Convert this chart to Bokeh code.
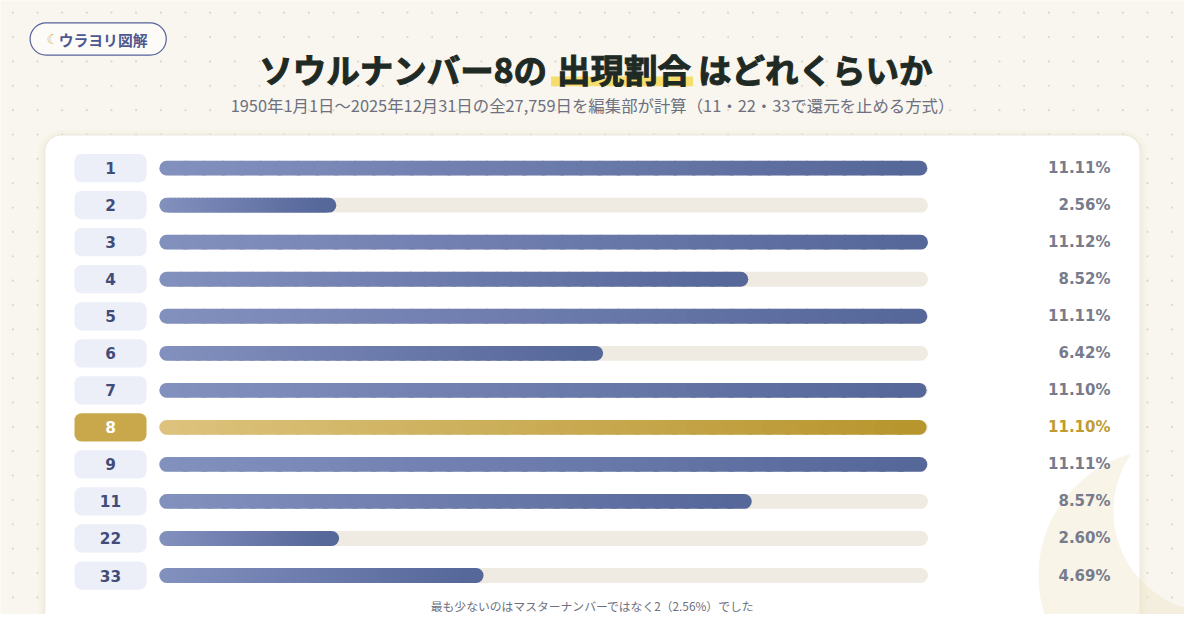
import numpy as np
from bokeh.plotting import figure
from bokeh.models import Range1d, ColumnDataSource
from bokeh.core.properties import value
from bokeh.embed import file_html
from bokeh.resources import INLINE

# ---------------- data ----------------
labels = ["1", "2", "3", "4", "5", "6", "7", "8", "9", "11", "22", "33"]
shares = [11.11, 2.56, 11.12, 8.52, 11.11, 6.42, 11.10, 11.10, 11.11, 8.57, 2.60, 4.69]
highlight_label = "8"

badge_text = "ウラヨリ図解"
title_parts = ["ソウルナンバー8の", "出現割合", "はどれくらいか"]
subtitle = "1950年1月1日〜2025年12月31日の全27,759日を編集部が計算（11・22・33で還元を止める方式）"
footer = "最も少ないのはマスターナンバーではなく2（2.56%）でした"

# ---------------- layout (reference pixel space 1200x630) ----------------
W, H = 1184, 614
REF_W, REF_H = 1200, 630
SX = W / REF_W
BAR_X0, BAR_X1 = 161, 940
ROW0, ROW_STEP = 172, 38
BAR_W = 15
scale_max = max(shares)
k = (BAR_X1 - BAR_X0) / scale_max  # ref px per percent


def X(px):
    return (np.asarray(px, dtype=float) - BAR_X0) / k


def Y(py):
    return (np.asarray(py, dtype=float) - ROW0) / ROW_STEP


def fs(px):
    return f"{px * SX:.1f}px"


JP = value("Noto Sans CJK JP")
NUM = value("DejaVu Sans")

p = figure(width=W, height=H,
           x_range=Range1d(float(X(0)), float(X(REF_W))),
           y_range=Range1d(float(Y(REF_H)), float(Y(0))),
           output_backend="svg", toolbar_location=None,
           x_axis_location=None, y_axis_location=None,
           min_border=0, tools="")
p.grid.visible = False
p.outline_line_color = None
BG = "#f9f6ef"
p.background_fill_color = BG
p.border_fill_color = BG

# dotted background
gx, gy = np.meshgrid(np.arange(12.5, 1200, 25.0), np.arange(12.5, 640, 25.0))
p.scatter(X(gx.ravel()), Y(gy.ravel()), size=2.2, color="#ddd7ca", line_color=None)


# crescent decoration (outer circle minus inner circle)
def crescent(c1, r1, c2, r2, n=160):
    c1 = np.array(c1, float); c2 = np.array(c2, float)
    d = np.linalg.norm(c2 - c1)
    a = (r1 ** 2 - r2 ** 2 + d ** 2) / (2 * d)
    h = np.sqrt(r1 ** 2 - a ** 2)
    u = (c2 - c1) / d
    perp = np.array([-u[1], u[0]])
    P = c1 + a * u
    I1, I2 = P + h * perp, P - h * perp

    def arc(c, r, A, B, keep):
        a1 = np.arctan2(*(A - c)[::-1]); a2 = np.arctan2(*(B - c)[::-1])
        for direction in (1, -1):
            span = (a2 - a1) % (2 * np.pi) if direction == 1 else -((a1 - a2) % (2 * np.pi))
            mid = a1 + span / 2
            pt = c + r * np.array([np.cos(mid), np.sin(mid)])
            if keep(pt):
                t = a1 + span * np.linspace(0, 1, n)
                return c[0] + r * np.cos(t), c[1] + r * np.sin(t)

    ox, oy = arc(c1, r1, I1, I2, lambda q: np.linalg.norm(q - c2) > r2)
    ix, iy = arc(c2, r2, I2, I1, lambda q: np.linalg.norm(q - c1) < r1)
    return np.concatenate([ox, ix]), np.concatenate([oy, iy])


# card shadow + card
for s in range(1, 9):
    p.quad(left=X(45 - s), right=X(1155 + s), top=Y(138 - s + 2), bottom=Y(700),
           fill_color="#9a8a60", fill_alpha=0.011, line_color=None, border_radius=16 + s)
p.quad(left=X(45), right=X(1155), top=Y(138), bottom=Y(700),
       fill_color="white", line_color="#ece7dd", line_width=1, border_radius=16)

cx, cy = crescent((1182, 590), 130, (1232, 524), 104)
p.patch(X(cx), Y(cy), fill_color="#ede3c3", fill_alpha=0.38, line_color=None)

# badge
p.quad(left=X(30), right=X(168), top=Y(23), bottom=Y(56), fill_color="#fcfbf7",
       line_color="#55619a", line_width=1.2, border_radius=17)
p.text(x=[X(53)], y=[Y(40)], text=["☾"], text_font=value("DejaVu Sans"), text_font_size=fs(14),
       text_color="#d2b259", text_align="center", text_baseline="middle")
p.text(x=[X(59)], y=[Y(40)], text=[badge_text], text_font=JP, text_font_style="bold",
       text_font_size=fs(15), text_color="#4c5890", text_align="left", text_baseline="middle")

# title with highlight
p.quad(left=X(558), right=X(702), top=Y(78), bottom=Y(88), fill_color="#f7de6c", line_color=None)
TY = Y(70)
common = dict(text_font=JP, text_font_style="bold", text_font_size=fs(34),
              text_color="#1f2a24", text_outline_color="#1f2a24", text_baseline="middle")
p.text(x=[X(554)], y=[TY], text=[title_parts[0]], text_align="right", **common)
p.text(x=[X(632)], y=[TY], text=[title_parts[1]], text_align="center", **common)
p.text(x=[X(707)], y=[TY], text=[title_parts[2]], text_align="left", **common)

p.text(x=[X(600)], y=[Y(107)], text=[subtitle], text_font=JP, text_font_size=fs(16.6),
       text_color="#6d7080", text_align="center", text_baseline="middle")

# ---------------- bars ----------------
rows = list(range(len(labels)))
cap = (BAR_W / 2) / k
p.segment(x0=[cap] * len(rows), x1=[scale_max - cap] * len(rows), y0=rows, y1=rows,
          line_color="#efebe2", line_width=BAR_W * SX, line_cap="round")


def lerp(c0, c1, t):
    a = np.array([int(c0[i:i + 2], 16) for i in (1, 3, 5)])
    b = np.array([int(c1[i:i + 2], 16) for i in (1, 3, 5)])
    c = np.round(a + (b - a) * t).astype(int)
    return "#%02x%02x%02x" % tuple(c)


BLUE = ("#8290be", "#566799")
GOLD = ("#dcc27c", "#b8962e")
N = 40
seg = dict(x0=[], x1=[], y=[], c=[])
for r, lab, v in zip(rows, labels, shares):
    c0, c1 = GOLD if lab == highlight_label else BLUE
    edges = np.linspace(cap, v - cap, N + 1)
    for j in range(N):
        seg["x0"].append(edges[j]); seg["x1"].append(edges[j + 1])
        seg["y"].append(r); seg["c"].append(lerp(c0, c1, j / (N - 1)))
src = ColumnDataSource(seg)
p.segment(x0="x0", x1="x1", y0="y", y1="y", line_color="c", line_width=BAR_W * SX,
          line_cap="round", source=src)

# label boxes
is_hi = [lab == highlight_label for lab in labels]
box_fill = ["#c9a84b" if h else "#eceef8" for h in is_hi]
num_col = ["#ffffff" if h else "#414c78" for h in is_hi]
pct_col = ["#bf9c33" if h else "#777b8b" for h in is_hi]
half = 14.5 / ROW_STEP
p.quad(left=X(75), right=X(148), top=[r - half for r in rows], bottom=[r + half for r in rows],
       fill_color=box_fill, line_color=None, border_radius=7)
p.text(x=[float(X(111.5))] * len(rows), y=rows, text=labels, text_font=NUM, text_font_style="bold",
       text_font_size=fs(15.5), text_color=num_col, text_align="center", text_baseline="middle")
p.text(x=[float(X(1125))] * len(rows), y=rows, text=[f"{v:.2f}%" for v in shares], text_font=NUM,
       text_font_style="bold", text_font_size=fs(15.2), text_color=pct_col,
       text_align="right", text_baseline="middle")

# footer
p.text(x=[X(600)], y=[Y(621)], text=[footer], text_font=JP, text_font_size=fs(12),
       text_color="#6d7080", text_align="center", text_baseline="middle")

open("out.html", "w").write(file_html(p, INLINE))
